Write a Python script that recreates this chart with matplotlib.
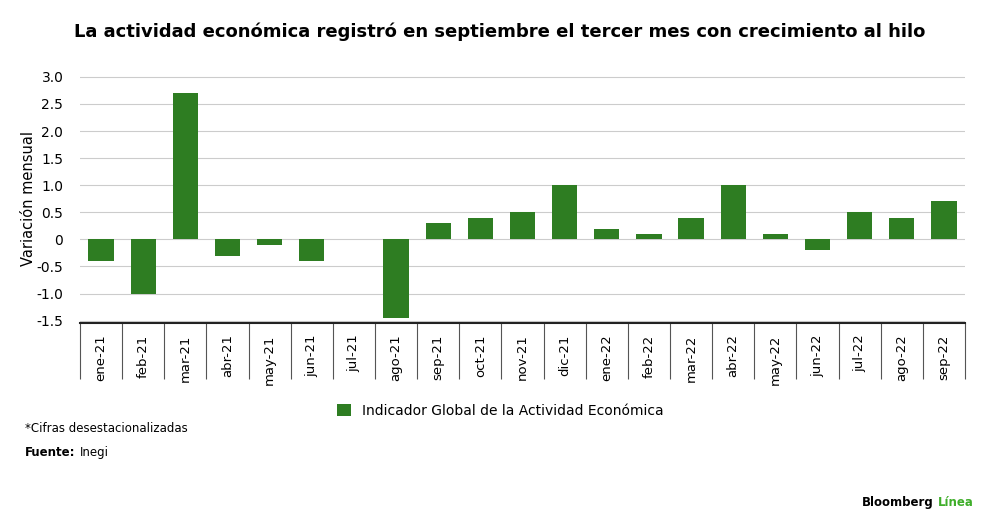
import matplotlib.pyplot as plt
import numpy as np

categories = ["ene-21","feb-21","mar-21","abr-21","may-21","jun-21","jul-21","ago-21","sep-21","oct-21",
              "nov-21","dic-21","ene-22","feb-22","mar-22","abr-22","may-22","jun-22","jul-22","ago-22","sep-22"]
values = [-0.4,-1.0,2.7,-0.3,-0.1,-0.4,0.0,-1.45,0.3,0.4,0.5,1.0,0.2,0.1,0.4,1.0,0.1,-0.2,0.5,0.4,0.7]
yticks = [-1.5,-1.0,-0.5,0,0.5,1.0,1.5,2.0,2.5,3.0]
ytick_labels = ["-1.5","-1.0","-0.5","0","0.5","1.0","1.5","2.0","2.5","3.0"]

green = "#2e7d22"
fig = plt.figure(figsize=(10,5.3), dpi=100)
ax = fig.add_axes([0.08, 0.39, 0.885, 0.47])
x = np.arange(len(categories))
ax.bar(x, values, width=0.6, color=green, label="Indicador Global de la Actividad Económica", zorder=3)
ax.set_xlim(-0.5, len(categories)-0.5)
ax.set_ylim(-1.55, 3.05)
ax.set_yticks(yticks)
ax.set_yticklabels(ytick_labels, fontsize=10)
ax.yaxis.grid(True, color="#cccccc", lw=0.8, zorder=0)
for s in ["top","right","left"]:
    ax.spines[s].set_visible(False)
ax.spines["bottom"].set_color("#222222")
ax.spines["bottom"].set_linewidth(1.5)
ax.tick_params(axis="y", length=0, pad=12)
ax.set_xticks(x)
ax.set_xticklabels(categories, rotation=90, fontsize=9.5)
ax.tick_params(axis="x", which="major", length=0, pad=8)
ax.set_xticks(np.arange(-0.5, len(categories)), minor=True)
ax.tick_params(axis="x", which="minor", length=40, color="#555555", width=0.8)
ax.set_ylabel("Variación mensual", fontsize=10.5, labelpad=0)
ax.yaxis.set_label_coords(-0.05, 0.5)

fig.text(0.5, 0.93, "La actividad económica registró en septiembre el tercer mes con crecimiento al hilo",
         ha="center", fontsize=13, fontweight="bold")
fig.legend(loc="center", bbox_to_anchor=(0.5, 0.225), frameon=False, fontsize=10,
           handlelength=1.0, handleheight=1.0)
fig.text(0.025, 0.185, "*Cifras desestacionalizadas", fontsize=8.5)
t = fig.text(0.025, 0.14, "Fuente:", fontsize=8.5, fontweight="bold")
ax.annotate("Inegi", xy=(1, 0), xycoords=t, xytext=(3, 0), textcoords="offset points",
            fontsize=8.5, va="bottom")
b = fig.text(0.883, 0.045, "Bloomberg", fontsize=8.5, fontweight="bold")
ax.annotate("Línea", xy=(1, 0), xycoords=b, xytext=(3, 0), textcoords="offset points",
            fontsize=8.5, fontweight="bold", color="#3fae2a", va="bottom")
b.set_x(0.862)
fig.savefig("out.png", dpi=100, facecolor="white")
